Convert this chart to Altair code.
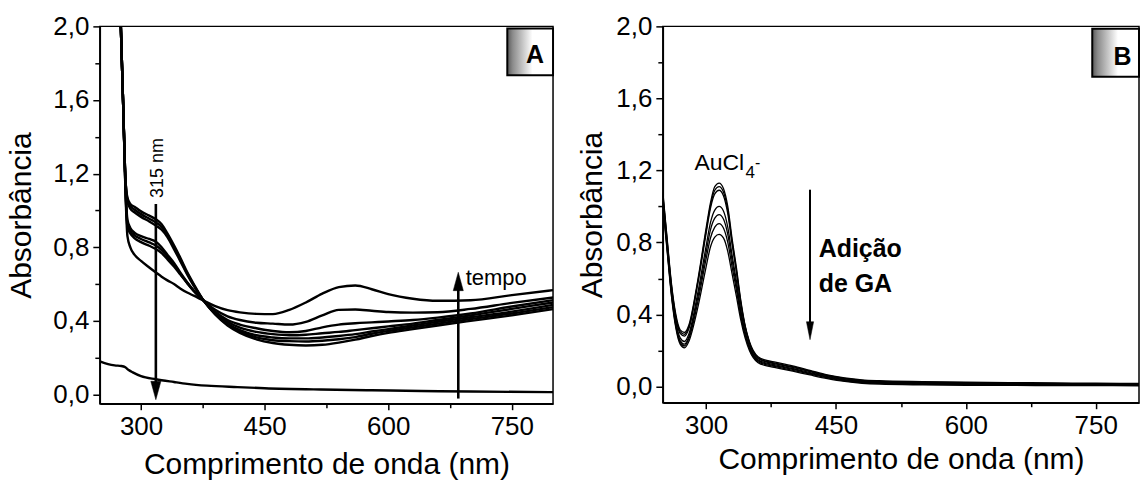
import altair as alt
import pandas as pd

FONT = "Liberation Sans"

# ---------------- Panel A data ----------------
A_NM = [272, 275.5, 278.5, 281, 283.5, 287, 292, 300, 310, 318, 325, 332, 340, 348, 356, 364,
        376, 390, 405, 420, 440, 460, 480, 500, 520, 540, 560, 580, 600, 630, 660, 700, 750, 800]
A_C1 = [2.6, 2.0, 1.55, 1.18, 1.07, 1.035, 1.02, 0.995, 0.972, 0.952, 0.925, 0.875, 0.81, 0.74, 0.665, 0.60,
        0.51, 0.435, 0.375, 0.335, 0.30, 0.28, 0.27, 0.266, 0.27, 0.282, 0.298, 0.318, 0.335, 0.355, 0.375, 0.40, 0.43, 0.464]
A_C2 = [2.6, 2.0, 1.55, 1.18, 1.06, 1.025, 1.005, 0.98, 0.955, 0.935, 0.91, 0.865, 0.80, 0.73, 0.658, 0.595,
        0.51, 0.437, 0.38, 0.343, 0.31, 0.295, 0.29, 0.288, 0.292, 0.30, 0.312, 0.33, 0.345, 0.365, 0.385, 0.41, 0.44, 0.475]
A_C3 = [2.6, 2.0, 1.55, 1.18, 1.05, 1.01, 0.99, 0.965, 0.94, 0.918, 0.895, 0.855, 0.79, 0.722, 0.652, 0.59,
        0.51, 0.44, 0.385, 0.35, 0.322, 0.31, 0.305, 0.305, 0.31, 0.318, 0.328, 0.342, 0.355, 0.375, 0.395, 0.42, 0.45, 0.487]
A_C4 = [2.6, 2.0, 1.55, 1.15, 0.95, 0.905, 0.88, 0.86, 0.845, 0.83, 0.80, 0.76, 0.715, 0.66, 0.61, 0.565,
        0.51, 0.445, 0.395, 0.363, 0.34, 0.328, 0.322, 0.325, 0.333, 0.34, 0.35, 0.36, 0.37, 0.385, 0.405, 0.43, 0.465, 0.50]
A_C5 = [2.6, 2.0, 1.55, 1.14, 0.93, 0.89, 0.865, 0.845, 0.826, 0.81, 0.785, 0.75, 0.705, 0.655, 0.607, 0.563,
        0.51, 0.45, 0.405, 0.38, 0.36, 0.345, 0.338, 0.345, 0.365, 0.38, 0.387, 0.392, 0.397, 0.405, 0.418, 0.44, 0.478, 0.513]
A_C6 = [2.6, 2.0, 1.55, 1.13, 0.91, 0.875, 0.85, 0.828, 0.808, 0.79, 0.768, 0.735, 0.695, 0.65, 0.605, 0.562,
        0.51, 0.46, 0.425, 0.405, 0.39, 0.385, 0.38, 0.395, 0.43, 0.46, 0.462, 0.455, 0.448, 0.445, 0.447, 0.465, 0.498, 0.527]
A_C7 = [2.6, 2.0, 1.55, 1.12, 0.86, 0.80, 0.76, 0.726, 0.69, 0.663, 0.64, 0.62, 0.60, 0.575, 0.554, 0.537,
        0.51, 0.48, 0.458, 0.446, 0.438, 0.437, 0.46, 0.50, 0.548, 0.583, 0.592, 0.572, 0.545, 0.52, 0.509, 0.512, 0.54, 0.567]
A0_NM = [250, 260, 268, 276, 281, 285, 290, 300, 318, 340, 356, 380, 417, 450, 518, 580, 640, 700, 800]
A0_VAL = [0.18, 0.165, 0.158, 0.155, 0.148, 0.133, 0.12, 0.10, 0.083, 0.068, 0.058, 0.048, 0.04, 0.034,
          0.027, 0.023, 0.019, 0.016, 0.013]

# ---------------- Panel B data ----------------
B_NM = [250, 255, 260, 265, 270, 275, 280, 290, 300, 305, 310, 315, 320, 325, 330, 335, 340, 345, 350,
        360, 370, 380, 400, 420, 440, 460, 480, 500, 550, 600, 650, 700, 750, 800]
B_C1 = [1.08, 0.82, 0.57, 0.40, 0.315, 0.30, 0.34, 0.58, 0.88, 1.02, 1.11, 1.13, 1.10, 1.00, 0.82, 0.66, 0.48, 0.34, 0.25,
        0.165, 0.145, 0.135, 0.115, 0.09, 0.065, 0.048, 0.037, 0.032, 0.027, 0.024, 0.022, 0.02, 0.018, 0.017]
B_C2 = [1.07, 0.81, 0.56, 0.39, 0.305, 0.29, 0.33, 0.57, 0.865, 1.005, 1.09, 1.11, 1.08, 0.98, 0.805, 0.645, 0.47, 0.335, 0.245,
        0.16, 0.14, 0.13, 0.11, 0.086, 0.062, 0.045, 0.034, 0.029, 0.024, 0.021, 0.019, 0.017, 0.016, 0.015]
B_C3 = [1.06, 0.80, 0.55, 0.38, 0.295, 0.28, 0.32, 0.56, 0.85, 0.99, 1.07, 1.09, 1.06, 0.96, 0.79, 0.635, 0.46, 0.33, 0.24,
        0.155, 0.136, 0.126, 0.106, 0.082, 0.059, 0.042, 0.031, 0.026, 0.021, 0.018, 0.016, 0.015, 0.014, 0.013]
B_C4 = [1.04, 0.78, 0.53, 0.36, 0.27, 0.25, 0.29, 0.51, 0.78, 0.91, 0.98, 1.00, 0.975, 0.885, 0.73, 0.585, 0.425, 0.305, 0.225,
        0.148, 0.13, 0.12, 0.10, 0.077, 0.055, 0.038, 0.028, 0.023, 0.018, 0.015, 0.013, 0.012, 0.011, 0.01]
B_C5 = [1.03, 0.77, 0.52, 0.345, 0.255, 0.235, 0.275, 0.485, 0.745, 0.87, 0.935, 0.955, 0.93, 0.845, 0.70, 0.56, 0.41, 0.295, 0.218,
        0.143, 0.125, 0.115, 0.095, 0.073, 0.051, 0.035, 0.025, 0.02, 0.015, 0.012, 0.011, 0.01, 0.009, 0.008]
B_C6 = [1.02, 0.76, 0.51, 0.335, 0.245, 0.225, 0.265, 0.46, 0.71, 0.825, 0.885, 0.905, 0.88, 0.80, 0.665, 0.535, 0.39, 0.285, 0.21,
        0.138, 0.12, 0.11, 0.09, 0.069, 0.048, 0.032, 0.022, 0.017, 0.012, 0.01, 0.009, 0.008, 0.007, 0.006]
B_C7 = [1.00, 0.75, 0.50, 0.325, 0.235, 0.215, 0.25, 0.43, 0.665, 0.775, 0.83, 0.845, 0.825, 0.75, 0.625, 0.50, 0.37, 0.27, 0.20,
        0.132, 0.115, 0.105, 0.085, 0.064, 0.044, 0.028, 0.018, 0.013, 0.009, 0.007, 0.006, 0.005, 0.005, 0.004]

# ---------------- axes / ticks ----------------
X_DOMAIN = [250, 800]
A_Y_DOMAIN = [-0.05, 2.0]
B_Y_DOMAIN = [-0.09, 2.0]
X_TICKS = [300, 375, 450, 525, 600, 675, 750]
Y_TICKS = [0.0, 0.2, 0.4, 0.6, 0.8, 1.0, 1.2, 1.4, 1.6, 1.8, 2.0]
X_TITLE = "Comprimento de onda (nm)"
Y_TITLE = "Absorbância"

# ---------------- annotations ----------------
A_ARROW_DOWN = dict(x=318, top=1.035, tip=-0.027)
A_ARROW_UP = dict(x=685, bottom=-0.022, tip=0.663)
B_ARROW_DOWN = dict(x=420, top=1.093, tip=0.26)
A_BOX = dict(x0=744.5, x1=800, y0=1.734, y1=1.989, lx=778, ly=1.80, label="A")
B_BOX = dict(x0=746, x1=800, y0=1.72, y1=1.987, lx=781, ly=1.787, label="B")


def curves_df(nm, curves):
    rows = []
    for name, vals in curves.items():
        for w, v in zip(nm, vals):
            rows.append({"nm": w, "abs": v, "curve": name})
    return pd.DataFrame(rows)


a_df = curves_df(A_NM, {"c1": A_C1, "c2": A_C2, "c3": A_C3, "c4": A_C4,
                        "c5": A_C5, "c6": A_C6, "c7": A_C7})
a0_df = curves_df(A0_NM, {"c0": A0_VAL})
b_df = curves_df(B_NM, {"b1": B_C1, "b2": B_C2, "b3": B_C3, "b4": B_C4,
                        "b5": B_C5, "b6": B_C6, "b7": B_C7})

major_x = "datum.value % 150 == 0"
major_y = "round(datum.value * 10) % 4 == 0"


def x_axis(title_pad):
    return alt.Axis(values=X_TICKS, title=X_TITLE, grid=False,
                    labelExpr=f"{major_x} ? datum.label : ''",
                    tickSize={"condition": {"test": major_x, "value": 6}, "value": 4},
                    labelPadding=4, titlePadding=title_pad)


def y_axis(title_pad):
    return alt.Axis(values=Y_TICKS, title=Y_TITLE, grid=False,
                    labelExpr=f"{major_y} ? replace(format(datum.value, '.1f'), '.', ',') : ''",
                    tickSize={"condition": {"test": major_y, "value": 7}, "value": 5},
                    labelPadding=4, titlePadding=title_pad)


def X(field, xa):
    return alt.X(f"{field}:Q", scale=alt.Scale(domain=X_DOMAIN, nice=False, zero=False), axis=xa)


def Y(field, dom, ya):
    return alt.Y(f"{field}:Q", scale=alt.Scale(domain=dom, nice=False, zero=False), axis=ya)


def arrowhead(x, y, down, size, half_w, yoff):
    if down:
        path = f"M{-half_w},-1L{half_w},-1L0,1Z"
    else:
        path = f"M{-half_w},1L{half_w},1L0,-1Z"
    return alt.Chart(pd.DataFrame({"nm": [x], "abs": [y]})).mark_point(
        shape=path, size=size, filled=True, fill="black", stroke="black", strokeWidth=0.5,
        opacity=1, yOffset=yoff)


def panel_box(box, xa, ya, dom):
    grad = alt.LinearGradient(gradient="linear", x1=0, x2=1, y1=0, y2=0,
                              stops=[alt.GradientStop(offset=0, color="#5a5a5a"),
                                     alt.GradientStop(offset=0.12, color="#8c8c8c"),
                                     alt.GradientStop(offset=0.55, color="#ffffff"),
                                     alt.GradientStop(offset=1, color="#ffffff")])
    bdf = pd.DataFrame({"x0": [box["x0"]], "x1": [box["x1"]], "y0": [box["y0"]], "y1": [box["y1"]]})
    rect = alt.Chart(bdf).mark_rect(fill=grad, stroke="black", strokeWidth=2).encode(
        x=X("x0", xa), x2="x1", y=Y("y0", dom, ya), y2="y1")
    ldf = pd.DataFrame({"nm": [box["lx"]], "abs": [box["ly"]], "t": [box["label"]]})
    lab = alt.Chart(ldf).mark_text(font=FONT, fontSize=25, fontWeight="bold", align="center",
                                   baseline="alphabetic", color="black").encode(
        x=X("nm", xa), y=Y("abs", dom, ya), text="t:N")
    return rect + lab


# ---------------- Panel A ----------------
xa_A = x_axis(10)
ya_A = y_axis(16)

linesA = alt.Chart(a_df).mark_line(color="black", strokeWidth=2.4, interpolate="monotone", clip=True).encode(
    x=X("nm", xa_A), y=Y("abs", A_Y_DOMAIN, ya_A), detail="curve:N", order="nm:Q")
line0A = alt.Chart(a0_df).mark_line(color="black", strokeWidth=2.4, interpolate="monotone", clip=True).encode(
    x=X("nm", xa_A), y=Y("abs", A_Y_DOMAIN, ya_A), order="nm:Q")

shaftA1 = alt.Chart(pd.DataFrame({"nm": [A_ARROW_DOWN["x"]], "y0": [A_ARROW_DOWN["top"]],
                                  "y1": [A_ARROW_DOWN["tip"] + 0.05]})).mark_rule(color="black", strokeWidth=2.6).encode(
    x=X("nm", xa_A), y=Y("y0", A_Y_DOMAIN, ya_A), y2="y1")
headA1 = arrowhead(A_ARROW_DOWN["x"], A_ARROW_DOWN["tip"], True, 340, 0.55, -9).encode(
    x=X("nm", xa_A), y=Y("abs", A_Y_DOMAIN, ya_A))
shaftA2 = alt.Chart(pd.DataFrame({"nm": [A_ARROW_UP["x"]], "y0": [A_ARROW_UP["bottom"]],
                                  "y1": [A_ARROW_UP["tip"] - 0.05]})).mark_rule(color="black", strokeWidth=2.6).encode(
    x=X("nm", xa_A), y=Y("y0", A_Y_DOMAIN, ya_A), y2="y1")
headA2 = arrowhead(A_ARROW_UP["x"], A_ARROW_UP["tip"], False, 340, 0.55, 9).encode(
    x=X("nm", xa_A), y=Y("abs", A_Y_DOMAIN, ya_A))

txt315 = alt.Chart(pd.DataFrame({"nm": [318], "abs": [1.068], "t": ["315 nm"]})).mark_text(
    font=FONT, fontSize=18, angle=270, align="left", baseline="middle", dy=2, color="black").encode(
    x=X("nm", xa_A), y=Y("abs", A_Y_DOMAIN, ya_A), text="t:N")
txtTempo = alt.Chart(pd.DataFrame({"nm": [694], "abs": [0.597], "t": ["tempo"]})).mark_text(
    font=FONT, fontSize=22, align="left", baseline="alphabetic", color="black").encode(
    x=X("nm", xa_A), y=Y("abs", A_Y_DOMAIN, ya_A), text="t:N")

panelA = alt.layer(line0A, linesA, shaftA1, headA1, shaftA2, headA2, txt315, txtTempo,
                   panel_box(A_BOX, xa_A, ya_A, A_Y_DOMAIN)).properties(width=454, height=378)

# ---------------- Panel B ----------------
xa_B = x_axis(6)
ya_B = y_axis(8)

linesB = alt.Chart(b_df).mark_line(color="black", strokeWidth=1.3, interpolate="monotone", clip=True).encode(
    x=X("nm", xa_B), y=Y("abs", B_Y_DOMAIN, ya_B), detail="curve:N", order="nm:Q")
shaftB = alt.Chart(pd.DataFrame({"nm": [B_ARROW_DOWN["x"]], "y0": [B_ARROW_DOWN["top"]],
                                 "y1": [B_ARROW_DOWN["tip"] + 0.05]})).mark_rule(color="black", strokeWidth=2).encode(
    x=X("nm", xa_B), y=Y("y0", B_Y_DOMAIN, ya_B), y2="y1")
headB = arrowhead(B_ARROW_DOWN["x"], B_ARROW_DOWN["tip"], True, 324, 0.4, -9).encode(
    x=X("nm", xa_B), y=Y("abs", B_Y_DOMAIN, ya_B))

txtAdd = alt.Chart(pd.DataFrame({"nm": [430, 430], "abs": [0.72, 0.526], "t": ["Adição", "de GA"]})).mark_text(
    font=FONT, fontSize=25, fontWeight="bold", align="left", baseline="alphabetic", color="black").encode(
    x=X("nm", xa_B), y=Y("abs", B_Y_DOMAIN, ya_B), text="t:N")
txtAu = alt.Chart(pd.DataFrame({"nm": [286.5], "abs": [1.2], "t": ["AuCl"]})).mark_text(
    font=FONT, fontSize=23, align="left", baseline="alphabetic", color="black").encode(
    x=X("nm", xa_B), y=Y("abs", B_Y_DOMAIN, ya_B), text="t:N")
txt4 = alt.Chart(pd.DataFrame({"nm": [345.5], "abs": [1.159], "t": ["4"]})).mark_text(
    font=FONT, fontSize=17, align="left", baseline="alphabetic", color="black").encode(
    x=X("nm", xa_B), y=Y("abs", B_Y_DOMAIN, ya_B), text="t:N")
txtMinus = alt.Chart(pd.DataFrame({"nm": [356.5], "abs": [1.215], "t": ["-"]})).mark_text(
    font=FONT, fontSize=16, align="left", baseline="alphabetic", color="black").encode(
    x=X("nm", xa_B), y=Y("abs", B_Y_DOMAIN, ya_B), text="t:N")

panelB = alt.layer(linesB, shaftB, headB, txtAdd, txtAu, txt4, txtMinus,
                   panel_box(B_BOX, xa_B, ya_B, B_Y_DOMAIN)).properties(width=477, height=377)

chart = alt.hconcat(panelA, panelB, spacing=22).configure(
    font=FONT, padding={"left": 6, "top": 12, "right": 0, "bottom": 0}
).configure_view(stroke="black", strokeWidth=1.5).configure_axis(
    labelFont=FONT, titleFont=FONT, labelFontSize=26, titleFontSize=30, titleFontWeight="normal",
    labelColor="black", titleColor="black", domainColor="black", domainWidth=1.5,
    tickColor="black", tickWidth=1.5, labelOverlap=False, labelFlush=False)

chart.save("out.html", embed_options={"renderer": "svg", "actions": False})
